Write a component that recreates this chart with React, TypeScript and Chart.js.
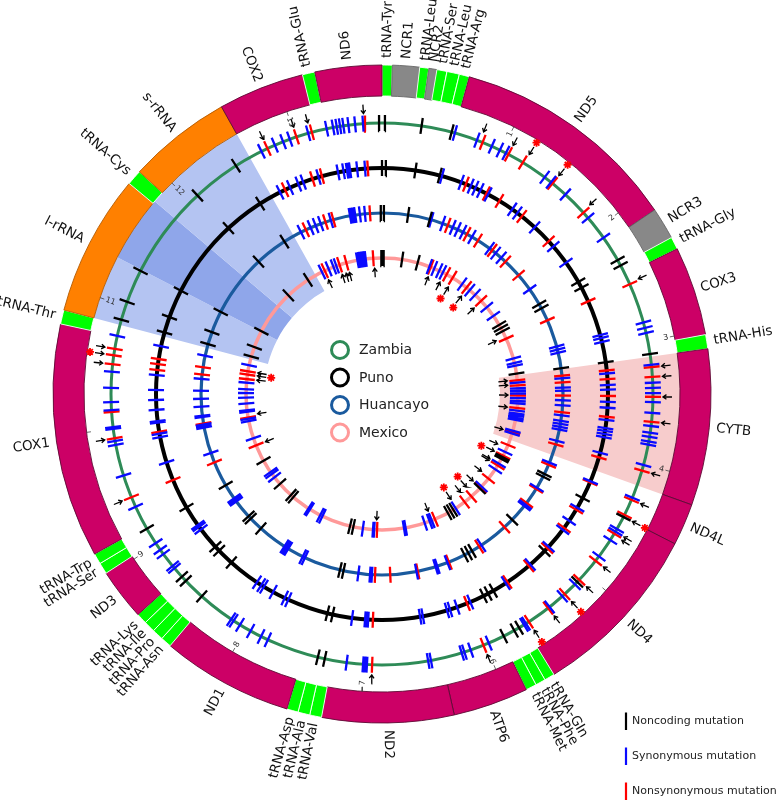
import React, { useEffect, useRef } from 'react';
import { Chart, registerables } from 'chart.js';

Chart.register(...registerables);

// ---------------- DATA ----------------
const GENOME_LENGTH = 13709;

const geneNames = ['tRNA-Tyr', 'NCR1', 'tRNA-Leu', 'NCR2', 'tRNA-Ser', 'tRNA-Leu', 'tRNA-Arg', 'ND5', 'NCR3', 'tRNA-Gly', 'COX3', 'tRNA-His', 'CYTB', 'ND4L', 'ND4', 'tRNA-Gln', 'tRNA-Phe', 'tRNA-Met', 'ATP6', 'ND2', 'tRNA-Val', 'tRNA-Ala', 'tRNA-Asp', 'ND1', 'tRNA-Asn', 'tRNA-Pro', 'tRNA-Ile', 'tRNA-Lys', 'ND3', 'tRNA-Ser', 'tRNA-Trp', 'COX1', 'tRNA-Thr', 'l-rRNA', 'tRNA-Cys', 's-rRNA', 'COX2', 'tRNA-Glu', 'ND6'];
const geneKinds = ['t', 'n', 't', 'n', 't', 't', 't', 'p', 'n', 't', 'p', 't', 'p', 'p', 'p', 't', 't', 't', 'p', 'p', 't', 't', 't', 'p', 't', 't', 't', 't', 'p', 't', 't', 'p', 't', 'r', 't', 'r', 'p', 't', 'p'];
const geneEnds = [69, 251, 312, 366, 434, 518, 586, 2132, 2346, 2430, 3031, 3126, 4177, 4459, 5655, 5724, 5792, 5864, 6371, 7258, 7338, 7418, 7494, 8381, 8454, 8530, 8606, 8678, 9025, 9101, 9173, 10750, 10845, 11797, 11900, 12597, 13176, 13260, 13709];

// shaded regions (end positions, bp) and their fill
const highlightEnds = [3126, 4177, 10845, 11321, 11816, 12597, 13709];
const highlightKinds = ['none', 'cytb', 'none', 'rrna', 'rrnaOverlap', 'rrna', 'none'];

// kb tick marks
const kbTicks = [1000, 2000, 3000, 4000, 5000, 6000, 7000, 8000, 9000, 10000, 11000, 12000, 13000];
const kbLabels = ['1', '2', '3', '4', '', '6', '7', '8', '9', '', '11', '12', '13'];

// Zambia
const zambiaNoncoding = [23, 320, 567, 2300, 2350, 3104, 4455, 5099, 5697, 5742, 5838, 7319, 7376, 8442, 8621, 8667, 9147, 10887, 11039, 11310, 12075, 12467, 13686];
const zambiaSyn = [12703, 12822, 12894, 12951, 13107, 13260, 13313, 13343, 13370, 13397, 13438, 13492, 13556, 594, 781, 910, 982, 1036, 1405, 1470, 1622, 1885, 2087, 2845, 2890, 2932, 3191, 3336, 3378, 3420, 3492, 3580, 3686, 3740, 3774, 3812, 3838, 4006, 4284, 4566, 4589, 4669, 4829, 5126, 5266, 5400, 5632, 5651, 5971, 6127, 6180, 6203, 6458, 6481, 6976, 6991, 7007, 7140, 7803, 7864, 7959, 8058, 8119, 8142, 8758, 8781, 8903, 8945, 9010, 9345, 9615, 9870, 9901, 10000, 10015, 10152, 10217, 10331, 10461, 10754];
const zambiaNonsyn = [12757, 13008, 13138, 13576, 830, 1059, 1192, 1485, 1828, 2517, 3210, 3290, 3450, 3652, 4052, 4303, 4436, 4608, 4874, 5076, 5240, 5415, 5605, 6017, 6934, 9429, 9924, 10137, 10521, 10594, 10647];
const zambiaArrows = [12757, 13012, 13126, 13565, 807, 1059, 1203, 1485, 1816, 2506, 3210, 3290, 3450, 3652, 4052, 4303, 4455, 4592, 4623, 4874, 5076, 5240, 5415, 5605, 6017, 6934, 9429, 9924, 10521, 10594, 10647];
const zambiaStars = [1203, 1485, 4455, 5240, 5605, 10594];

// Puno
const punoNoncoding = [0, 36, 324, 564, 2295, 2360, 3119, 4471, 5103, 5731, 5788, 5838, 7335, 7387, 8446, 8610, 8663, 9135, 10883, 11039, 11317, 12079, 12467];
const punoSyn = [12688, 12795, 12882, 12932, 13088, 13282, 13336, 13370, 13385, 13400, 13469, 13545, 586, 781, 880, 929, 982, 1066, 1340, 1401, 1618, 1877, 2075, 2852, 2883, 2921, 3229, 3340, 3385, 3503, 3560, 3679, 3758, 3785, 3816, 3846, 4002, 4292, 4577, 4726, 4832, 5046, 5293, 5590, 5979, 6116, 6188, 6218, 6458, 6485, 6988, 7003, 7018, 7144, 7787, 7825, 7951, 8054, 8084, 8134, 8880, 8911, 8933, 9611, 9863, 9897, 10004, 10019, 10129, 10224, 10320, 10464, 10746];
const punoNonsyn = [12742, 13027, 13122, 13572, 830, 1047, 1192, 1455, 1809, 2506, 3199, 3283, 3446, 3648, 4048, 4303, 4600, 4810, 5065, 5312, 5571, 6013, 6942, 9429, 9916, 10514, 10571, 10621];

// Huancayo
const huancayoNoncoding = [13695, 22, 316, 583, 2296, 2352, 3115, 4425, 4462, 5103, 5718, 5769, 5820, 7322, 7366, 8454, 8625, 8663, 9128, 10891, 11043, 11310, 12071, 12467];
const huancayoSyn = [12696, 12825, 12890, 12955, 13084, 13322, 13343, 13364, 13385, 13442, 13503, 602, 746, 876, 941, 1013, 1135, 1390, 1481, 1569, 2083, 2848, 2886, 2925, 3237, 3351, 3389, 3503, 3564, 3686, 3752, 3789, 3826, 3860, 3998, 4276, 4615, 4859, 4882, 5586, 6047, 6177, 6199, 6436, 6976, 6999, 7140, 7814, 7844, 8042, 8069, 8096, 8895, 8918, 8941, 9558, 9874, 9893, 9912, 10004, 10019, 10129, 10224, 10320, 10464, 10746];
const huancayoNonsyn = [12761, 13016, 13115, 13564, 811, 1066, 1219, 1428, 1637, 1866, 2513, 3206, 3286, 3446, 3648, 4044, 4303, 4631, 4836, 5232, 5617, 6028, 6420, 6755, 6938, 9436, 9924, 10518, 10605];

// Mexico
const mexicoNoncoding = [13699, 25, 324, 579, 2265, 2323, 2381, 3100, 4480, 4515, 5103, 5650, 5701, 5752, 7318, 7373, 8404, 8454, 8705, 9162, 10891, 11051, 11329, 12052, 12452];
const mexicoSyn = [12711, 12829, 12913, 12962, 13312, 13339, 13366, 13393, 13420, 13447, 777, 861, 948, 1013, 1375, 1531, 1645, 1919, 2094, 2852, 2925, 2970, 3244, 3336, 3378, 3420, 3492, 3541, 3580, 3694, 3740, 3774, 3812, 3845, 4025, 4071, 4387, 4600, 4707, 5061, 5605, 6036, 6074, 6158, 6474, 6500, 6980, 6999, 7163, 7844, 7883, 8073, 8100, 8842, 8911, 8949, 9558, 9844, 9882, 9996, 10020, 10129, 10224, 10297, 10358, 10464, 10746];
const mexicoNonsyn = [12761, 13016, 13130, 13568, 800, 1081, 1192, 1466, 1782, 2513, 3206, 3290, 3450, 3652, 4048, 4265, 4455, 4635, 4893, 5084, 5289, 5430, 5982, 6934, 9436, 9901, 10521, 10594, 10647];
const mexicoArrows = [12753, 13008, 13080, 13138, 13583, 819, 1043, 1211, 1489, 1790, 2475, 3199, 3275, 3446, 3656, 4048, 4318, 4455, 4608, 4638, 4867, 5091, 5244, 5384, 5590, 6036, 6946, 9432, 9939, 10521, 10594, 10647];
const mexicoStars = [1200, 1504, 4474, 5236, 5579, 10598];

const populationNames = ['Zambia', 'Puno', 'Huancayo', 'Mexico'];
const mutationTypes = ['Noncoding mutation', 'Synonymous mutation', 'Nonsynonymous mutation'];

// ---------------- STYLE ----------------
const CANVAS_W = 784;
const CANVAS_H = 800;
const CX = 382;
const CY = 394;
const RING_OUTER = 329;
const RING_INNER = 298;
const SHADE_INNER = 118;
const FONT = '"DejaVu Sans", sans-serif';
const FLIP_FROM = 180;
const FLIP_TO = 342;

const geneFill: Record<string, string> = { p: '#cc0066', t: '#00ff00', r: '#ff8000', n: '#888888' };
const geneBorder: Record<string, string> = { p: '#5e0b34', t: '#ffffff', r: '#b35a00', n: '#666666' };
const highlightFill: Record<string, string> = { none: 'rgba(0,0,0,0)', cytb: '#f7cccc', rrna: '#b4c4f2', rrnaOverlap: '#8fa6ea' };

const ringStyles = [
  { color: '#2e8b57', radius: 271, width: 3 },
  { color: '#000000', radius: 226, width: 4 },
  { color: '#1a5a9e', radius: 181, width: 3.2 },
  { color: '#ff9999', radius: 136, width: 3.5 },
];
const typeColors = ['#000000', '#0a0aff', '#ff0000'];
const TICK_HALF = 8;

const ringData = [
  [zambiaNoncoding, zambiaSyn, zambiaNonsyn],
  [punoNoncoding, punoSyn, punoNonsyn],
  [huancayoNoncoding, huancayoSyn, huancayoNonsyn],
  [mexicoNoncoding, mexicoSyn, mexicoNonsyn],
];

// ---------------- HELPERS ----------------
const GAP = { x: 0, y: null as any };
const angleOf = (bp: number) => (bp / GENOME_LENGTH) * Math.PI * 2;
const polar = (bp: number, r: number) => {
  const a = angleOf(bp);
  return { x: r * Math.sin(a), y: r * Math.cos(a) };
};

function radialSegments(sites: number[], r0: number, r1: number) {
  const pts: any[] = [];
  sites.forEach((bp) => {
    pts.push(polar(bp, r0), polar(bp, r1), GAP);
  });
  return pts;
}

function arrowSegments(sites: number[], rTail: number, rTip: number) {
  const pts: any[] = [];
  const head = 4.2;
  const c = Math.cos(0.6);
  const s = Math.sin(0.6);
  sites.forEach((bp) => {
    const tail = polar(bp, rTail);
    const tip = polar(bp, rTip);
    const bx = tail.x - tip.x;
    const by = tail.y - tip.y;
    const len = Math.hypot(bx, by) || 1;
    const ux = (bx / len) * head;
    const uy = (by / len) * head;
    const h1 = { x: tip.x + ux * c - uy * s, y: tip.y + ux * s + uy * c };
    const h2 = { x: tip.x + ux * c + uy * s, y: tip.y - ux * s + uy * c };
    pts.push(tail, tip, GAP, h1, tip, h2, GAP);
  });
  return pts;
}

const lineDataset = (data: any[], color: string, width: number, order: number) => ({
  data,
  showLine: true,
  borderColor: color,
  borderWidth: width,
  pointRadius: 0,
  pointHoverRadius: 0,
  pointHitRadius: 0,
  spanGaps: false,
  borderCapStyle: 'butt',
  order,
});

function drawRadial(ctx: CanvasRenderingContext2D, chart: any, text: string, bp: number, r: number, mode: 'gene' | 'kb') {
  const deg = (bp / GENOME_LENGTH) * 360;
  const p = polar(bp, r);
  const px = chart.scales.x.getPixelForValue(p.x);
  const py = chart.scales.y.getPixelForValue(p.y);
  const inward = deg > FLIP_FROM && deg < FLIP_TO;
  ctx.save();
  ctx.translate(px, py);
  ctx.rotate(((deg - 90) * Math.PI) / 180 + (inward ? Math.PI : 0));
  if (mode === 'gene') ctx.textAlign = inward ? 'right' : 'left';
  else ctx.textAlign = inward ? 'left' : 'right';
  ctx.textBaseline = 'middle';
  ctx.fillText(text, 0, 0);
  ctx.restore();
}

const textPlugin = {
  id: 'mitoText',
  afterDatasetsDraw(chart: any) {
    const ctx: CanvasRenderingContext2D = chart.ctx;
    ctx.save();
    // gene labels
    ctx.font = `13.5px ${FONT}`;
    ctx.fillStyle = '#111111';
    geneNames.forEach((name, i) => {
      const start = i === 0 ? 0 : geneEnds[i - 1];
      const mid = (start + geneEnds[i]) / 2;
      drawRadial(ctx, chart, name, mid, RING_OUTER + 7, 'gene');
    });
    // kb labels
    ctx.font = `8px ${FONT}`;
    ctx.fillStyle = '#333333';
    kbTicks.forEach((bp, i) => {
      if (kbLabels[i]) drawRadial(ctx, chart, kbLabels[i], bp, RING_INNER - 6, 'kb');
    });
    // population legend (centre)
    ctx.font = `14px ${FONT}`;
    ctx.textAlign = 'left';
    ctx.textBaseline = 'middle';
    populationNames.forEach((name, i) => {
      const yy = 350 + i * 27.5;
      ctx.beginPath();
      ctx.arc(340, yy, 8.5, 0, Math.PI * 2);
      ctx.lineWidth = 3;
      ctx.strokeStyle = ringStyles[i].color;
      ctx.stroke();
      ctx.fillStyle = '#222222';
      ctx.fillText(name, 359, yy + 0.5);
    });
    // mutation legend (bottom right)
    ctx.font = `11px ${FONT}`;
    mutationTypes.forEach((name, i) => {
      const yy = 721 + i * 35;
      ctx.beginPath();
      ctx.moveTo(626, yy - 8.5);
      ctx.lineTo(626, yy + 9);
      ctx.lineWidth = 2.2;
      ctx.strokeStyle = typeColors[i];
      ctx.stroke();
      ctx.fillStyle = '#222222';
      ctx.fillText(name, 632, yy);
    });
    ctx.restore();
  },
};

export default function App() {
  const ringRef = useRef<HTMLCanvasElement | null>(null);
  const markRef = useRef<HTMLCanvasElement | null>(null);

  useEffect(() => {
    if (!ringRef.current || !markRef.current) return;

    const geneLengths = geneEnds.map((e, i) => e - (i === 0 ? 0 : geneEnds[i - 1]));
    const highlightLengths = highlightEnds.map((e, i) => e - (i === 0 ? 0 : highlightEnds[i - 1]));

    const ringChart = new Chart(ringRef.current, {
      type: 'doughnut',
      data: {
        labels: geneNames,
        datasets: [
          {
            data: geneLengths,
            backgroundColor: geneKinds.map((k) => geneFill[k]),
            borderColor: geneKinds.map((k) => geneBorder[k]),
            borderWidth: 0.9,
            weight: RING_OUTER - RING_INNER,
          } as any,
          {
            data: highlightLengths,
            backgroundColor: highlightKinds.map((k) => highlightFill[k]),
            borderWidth: 0,
            weight: RING_INNER - SHADE_INNER,
          } as any,
        ],
      },
      options: {
        animation: false,
        responsive: false,
        events: [],
        radius: RING_OUTER,
        cutout: `${(SHADE_INNER / RING_OUTER) * 100}%`,
        layout: { padding: 0 },
        plugins: { legend: { display: false }, tooltip: { enabled: false } },
      } as any,
    });

    const datasets: any[] = [];
    // population circles
    ringStyles.forEach((rs) => {
      datasets.push({
        data: [{ x: 0, y: 0 }],
        pointRadius: rs.radius,
        pointHoverRadius: rs.radius,
        pointBorderWidth: rs.width,
        pointHoverBorderWidth: rs.width,
        pointBackgroundColor: 'rgba(0,0,0,0)',
        pointBorderColor: rs.color,
        order: 10,
        clip: false,
      });
    });
    // mutation ticks
    ringData.forEach((types, ri) => {
      const r = ringStyles[ri].radius;
      types.forEach((sites, ti) => {
        datasets.push(lineDataset(radialSegments(sites, r - TICK_HALF, r + TICK_HALF), typeColors[ti], 2.3, 5));
      });
    });
    // kb tick dashes
    datasets.push(lineDataset(radialSegments(kbTicks, RING_INNER - 4.5, RING_INNER), '#444444', 0.8, 5));
    // arrows
    datasets.push(lineDataset(arrowSegments(zambiaArrows, ringStyles[0].radius + 19, ringStyles[0].radius + 10), '#000000', 1.3, 2));
    datasets.push(lineDataset(arrowSegments(mexicoArrows, ringStyles[3].radius - 19, ringStyles[3].radius - 10), '#000000', 1.3, 2));
    // asterisks
    [
      { sites: zambiaStars, r: ringStyles[0].radius + 24 },
      { sites: mexicoStars, r: ringStyles[3].radius - 24 },
    ].forEach((st) => {
      datasets.push({
        data: st.sites.map((bp) => polar(bp, st.r)),
        pointStyle: 'star',
        pointRadius: 4,
        pointHoverRadius: 4,
        pointBorderWidth: 1.8,
        pointBorderColor: '#ff0000',
        pointBackgroundColor: '#ff0000',
        order: 1,
      });
    });

    const markChart = new Chart(markRef.current, {
      type: 'scatter',
      data: { datasets },
      options: {
        animation: false,
        responsive: false,
        events: [],
        layout: { padding: 0, autoPadding: false },
        scales: {
          x: { type: 'linear', min: -CX, max: CANVAS_W - CX, display: false },
          y: { type: 'linear', min: CY - CANVAS_H, max: CY, display: false },
        },
        plugins: { legend: { display: false }, tooltip: { enabled: false } },
      } as any,
      plugins: [textPlugin],
    });

    return () => {
      ringChart.destroy();
      markChart.destroy();
    };
  }, []);

  return (
    <div style={{ position: 'fixed', left: 0, top: 0, width: CANVAS_W, height: CANVAS_H, background: '#ffffff' }}>
      <canvas ref={ringRef} width={CX * 2} height={CY * 2} style={{ position: 'absolute', left: 0, top: 0 }} />
      <canvas ref={markRef} width={CANVAS_W} height={CANVAS_H} style={{ position: 'absolute', left: 0, top: 0 }} />
    </div>
  );
}
